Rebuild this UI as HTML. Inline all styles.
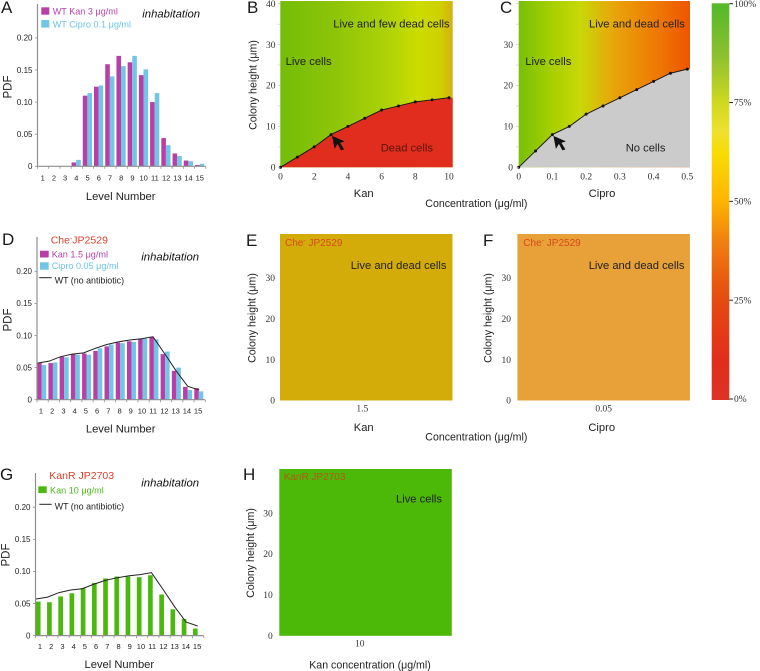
<!DOCTYPE html>
<html lang="en">
<head>
<meta charset="utf-8">
<title>Colony inhabitation and survival charts</title>
<style>
html,body{margin:0;padding:0;background:#fff;}
svg{display:block;filter:blur(0.35px);}
text{font-family:"Liberation Sans",sans-serif;fill:#222;}
.serif{font-family:"Liberation Serif",serif;font-size:9.5px;fill:#333;}
.panel{font-size:17px;fill:#1a1a1a;}
.lab{font-size:11.2px;}
.hab{font-size:11.3px;font-style:italic;fill:#111;}
.leg{font-size:9.1px;}
.wt{font-size:8.9px;fill:#222;}
</style>
</head>
<body>
<svg id="figure" width="760" height="671" viewBox="0 0 760 671" xmlns="http://www.w3.org/2000/svg">
<defs id="defs"></defs>
<g id="marks"></g>

<text class="panel" x="1" y="13">A</text>
<text class="panel" x="247" y="13">B</text>
<text class="panel" x="500" y="13">C</text>
<text class="panel" x="2" y="245">D</text>
<text class="panel" x="246" y="246">E</text>
<text class="panel" x="483" y="246">F</text>
<text class="panel" x="0" y="480">G</text>
<text class="panel" x="243" y="480">H</text>

<!-- Panel A labels -->
<rect x="41.3" y="7.3" width="8" height="7.4" fill="#b83fa8"/>
<text class="leg" x="52.7" y="14.7" fill="#b83fa8" style="fill:#b83fa8">WT Kan 3 μg/ml</text>
<rect x="41.3" y="20" width="8" height="7.6" fill="#72c5e5"/>
<text class="leg" x="52.7" y="27.7" style="fill:#6cc4e4">WT Cipro 0.1 μg/ml</text>
<text class="hab" x="142.3" y="17.3">inhabitation</text>
<text class="lab" x="120.7" y="200" text-anchor="middle">Level Number</text>
<text class="lab" transform="translate(11.5,87) rotate(-90)" text-anchor="middle" style="font-size:11.5px">PDF</text>

<!-- Panel B labels -->
<text class="lab" x="333.3" y="27.5">Live and few dead cells</text>
<text class="lab" x="285.6" y="65">Live cells</text>
<text class="lab" x="380.7" y="151.7" style="fill:#5a1510">Dead cells</text>
<text class="lab" x="363.7" y="197" text-anchor="middle">Kan</text>
<text class="lab" transform="translate(256.5,85) rotate(-90)" text-anchor="middle" style="font-size:10.6px">Colony height (μm)</text>
<text class="lab" x="425.3" y="207" style="font-size:10.6px">Concentration (μg/ml)</text>

<!-- Panel C labels -->
<text class="lab" x="589" y="27.5">Live and dead cells</text>
<text class="lab" x="525.3" y="65">Live cells</text>
<text class="lab" x="625.7" y="151.7">No cells</text>
<text class="lab" x="602" y="197" text-anchor="middle">Cipro</text>

<!-- Panel D labels -->
<text x="50.7" y="243.3" style="font-size:10.5px;fill:#d9402a">Che<tspan dy="-3" style="font-size:7px;fill:#d9402a">-</tspan><tspan dy="3" style="fill:#d9402a">JP2529</tspan></text>
<rect x="40" y="250.7" width="8.7" height="6.8" fill="#b83fa8"/>
<text class="leg" x="51.7" y="257.7" style="fill:#b83fa8">Kan 1.5 μg/ml</text>
<rect x="40" y="262.3" width="8.7" height="7.4" fill="#72c5e5"/>
<text class="leg" x="51.7" y="269" style="fill:#6cc4e4">Cipro 0.05 μg/ml</text>
<line x1="39.3" x2="51.7" y1="277.7" y2="277.7" stroke="#222" stroke-width="1"/>
<text class="wt" x="54.7" y="283.3">WT (no antibiotic)</text>
<text class="hab" x="141.3" y="260.7">inhabitation</text>
<text class="lab" x="120.7" y="432.3" text-anchor="middle">Level Number</text>
<text class="lab" transform="translate(11.5,320) rotate(-90)" text-anchor="middle" style="font-size:11.5px">PDF</text>

<!-- Panel E labels -->
<text x="285" y="246" style="font-size:10px;fill:#d8481c">Che<tspan dy="-3" style="font-size:7px;fill:#d8481c">-</tspan><tspan dy="3" style="fill:#d8481c"> JP2529</tspan></text>
<text class="lab" x="350.7" y="269">Live and dead cells</text>
<text class="lab" x="363.7" y="431" text-anchor="middle">Kan</text>
<text class="lab" transform="translate(255.5,318) rotate(-90)" text-anchor="middle" style="font-size:10.6px">Colony height (μm)</text>
<text class="lab" x="425.3" y="440.3" style="font-size:10.6px">Concentration (μg/ml)</text>

<!-- Panel F labels -->
<text x="523.3" y="246" style="font-size:10px;fill:#d8481c">Che<tspan dy="-3" style="font-size:7px;fill:#d8481c">-</tspan><tspan dy="3" style="fill:#d8481c"> JP2529</tspan></text>
<text class="lab" x="588.7" y="269">Live and dead cells</text>
<text class="lab" x="601.7" y="431" text-anchor="middle">Cipro</text>
<text class="lab" transform="translate(491.5,318) rotate(-90)" text-anchor="middle" style="font-size:10.6px">Colony height (μm)</text>

<!-- Panel G labels -->
<text x="49.3" y="479" style="font-size:10.5px;fill:#d9402a">KanR JP2703</text>
<rect x="38.3" y="486.3" width="8.4" height="6.8" fill="#4cb80e"/>
<text class="leg" x="50" y="493.3" style="fill:#4cb81a">Kan 10 μg/ml</text>
<line x1="39.3" x2="51.7" y1="504.3" y2="504.3" stroke="#222" stroke-width="1"/>
<text class="wt" x="54.7" y="509.3">WT (no antibiotic)</text>
<text class="hab" x="141.3" y="486.3">inhabitation</text>
<text class="lab" x="119.3" y="668" text-anchor="middle">Level Number</text>
<text class="lab" transform="translate(9.5,555) rotate(-90)" text-anchor="middle" style="font-size:11.5px">PDF</text>

<!-- Panel H labels -->
<text x="283.7" y="480" style="font-size:10px;fill:#b8561a">KanR JP2703</text>
<text class="lab" x="396" y="502.7">Live cells</text>
<text class="lab" x="370" y="668.3" text-anchor="middle" style="font-size:10.6px">Kan concentration (μg/ml)</text>
<text class="lab" transform="translate(254,553) rotate(-90)" text-anchor="middle" style="font-size:10.6px">Colony height (μm)</text>
</svg>

<script>
/* ---------- chart data ---------- */
const levels = [1,2,3,4,5,6,7,8,9,10,11,12,13,14,15];
const pdfTicks = [0,0.05,0.10,0.15,0.20];
const pdfTickLabels = ['0','0.05','0.10','0.15','0.20'];

const wtKan3 = [0,0,0,0.006,0.11,0.124,0.159,0.172,0.162,0.142,0.10,0.044,0.02,0.009,0.002];
const wtCipro01 = [0,0,0,0.01,0.114,0.126,0.14,0.156,0.172,0.151,0.114,0.033,0.016,0.008,0.004];

const cheKan15 = [0.057,0.057,0.067,0.071,0.072,0.076,0.083,0.089,0.091,0.095,0.098,0.071,0.045,0.02,0.018];
const cheCipro005 = [0.054,0.058,0.066,0.07,0.07,0.08,0.086,0.088,0.09,0.095,0.094,0.075,0.05,0.015,0.013];
const wtNoAntibiotic = [0.057,0.06,0.067,0.071,0.073,0.08,0.086,0.09,0.093,0.095,0.098,0.072,0.045,0.021,0.015];

const kanRKan10 = [0.053,0.052,0.061,0.066,0.074,0.082,0.089,0.092,0.092,0.091,0.094,0.064,0.041,0.026,0.011];

const kanConcentrations = [0,1,2,3,4,5,6,7,8,9,10];
const kanBoundaryHeights = [0,2.5,5,8,10,12,14,15,16,16.5,17];
const kanTicks = [0,2,4,6,8,10];

const ciproConcentrations = [0,0.05,0.1,0.15,0.2,0.25,0.3,0.35,0.4,0.45,0.5];
const ciproBoundaryHeights = [0,4,8,10,13,15,17,19,21,23,24];
const ciproTicks = [0,0.1,0.2,0.3,0.4,0.5];

const heightTicks = [0,10,20,30,40];
const heightTicksNoTop = [0,10,20,30];
const heightMinorTicks = [0,5,10,15,20,25,30,35,40];
const colorbarTicks = [100,75,50,25,0];

/* colour ramps: [offset, colour] */
const colorbarRamp = [[0,'#52b82a'],[0.13,'#8cc030'],[0.25,'#cfd820'],[0.32,'#eee030'],[0.38,'#f8dc00'],[0.5,'#ffb400'],[0.6,'#f08010'],[0.7,'#e85a10'],[0.75,'#e54a12'],[0.9,'#e12e1a'],[1,'#dc3226']];
const kanRamp = [[0,'#74bd08'],[0.3,'#8cc408'],[0.6,'#abd108'],[0.8,'#cbdc00'],[0.93,'#cfd000'],[1,'#d4b010']];
const ciproRamp = [[0,'#78c008'],[0.2,'#a8d000'],[0.36,'#c8d808'],[0.55,'#e8a60a'],[0.8,'#ee7a04'],[1,'#ee5500']];

/* ---------- helpers ---------- */
const NS = 'http://www.w3.org/2000/svg';
const marks = document.getElementById('marks');
const defs = document.getElementById('defs');

function make(tag, attrs, parent) {
  const el = document.createElementNS(NS, tag);
  for (const k in attrs) el.setAttribute(k, attrs[k]);
  (parent || marks).appendChild(el);
  return el;
}

function addGradient(id, ramp, vertical) {
  const g = make('linearGradient', {id: id, x1: 0, y1: 0, x2: vertical ? 0 : 1, y2: vertical ? 1 : 0}, defs);
  ramp.forEach(function (s) {
    make('stop', {offset: s[0], 'stop-color': s[1]}, g);
  });
}

/* ---------- bar charts ---------- */
function drawBarChart(c) {
  const yPdf = function (v) { return c.base - v * 642; };
  const barX = function (lvl) { return c.barX0 + (lvl - 1) * 11.22; };
  const tickX = function (lvl) { return c.axisX + (lvl - 1) * 11.22; };
  const labelX = function (lvl) { return c.labelX0 + (lvl - 1) * 11.22; };
  const lineX = function (lvl) { return c.lineX0 + (lvl - 1) * 11.55; };

  c.series.forEach(function (s, si) {
    levels.forEach(function (lvl, i) {
      const h = s.values[i] * 642;
      if (h <= 0) return;
      const bar = make('rect', {x: barX(lvl) + s.offset, y: yPdf(s.values[i]), width: s.width, height: h, fill: s.color});
      
      
    });
  });

  if (c.line) {
    const pts = levels.map(function (lvl, i) { return lineX(lvl) + ',' + yPdf(c.line[i]); }).join(' ');
    const line = make('polyline', {points: pts, fill: 'none', stroke: '#222', 'stroke-width': 1});
    
    
  }

  const yAxis = make('line', {x1: c.axisX, x2: c.axisX, y1: c.top, y2: c.base, stroke: '#8f8f8f', 'stroke-width': 1.2});
  
  
  const xAxis = make('line', {x1: c.axisX, x2: c.axisX + 168, y1: c.base, y2: c.base, stroke: '#8f8f8f', 'stroke-width': 1.2});
  
  

  pdfTicks.forEach(function (t, i) {
    const tick = make('line', {x1: c.axisX - 2.5, x2: c.axisX, y1: yPdf(t), y2: yPdf(t), stroke: '#8f8f8f', 'stroke-width': 0.8});
    
    
    const lab = make('text', {x: c.axisX - 5, y: yPdf(t) + 2.8, 'text-anchor': 'end', style: 'font-size:8px'});
    lab.textContent = pdfTickLabels[i];
    
    
  });

  levels.concat([16]).forEach(function (lvl) {
    const tick = make('line', {x1: tickX(lvl), x2: tickX(lvl), y1: c.base, y2: c.base + 2.5, stroke: '#8f8f8f', 'stroke-width': 0.8});
    
    
  });
  levels.forEach(function (lvl) {
    const lab = make('text', {x: labelX(lvl), y: c.labelY, 'text-anchor': 'middle', style: 'font-size:7.5px'});
    lab.textContent = lvl;
    
    
  });
}

drawBarChart({id: 'a', axisX: 37.5, top: 4, base: 166.3, barX0: 42.5, labelX0: 42.7, lineX0: 37.5, labelY: 180.7,
  series: [{name: 'kan', values: wtKan3, color: '#b83fa8', offset: -4.6, width: 4.6},
           {name: 'cipro', values: wtCipro01, color: '#72c5e5', offset: 0, width: 4.6}]});
drawBarChart({id: 'd', axisX: 37, top: 237, base: 399.7, barX0: 41.7, labelX0: 41, lineX0: 37.5, labelY: 413.3, line: wtNoAntibiotic,
  series: [{name: 'kan', values: cheKan15, color: '#b83fa8', offset: -4.5, width: 4.5},
           {name: 'cipro', values: cheCipro005, color: '#72c5e5', offset: 0, width: 4.5}]});
drawBarChart({id: 'g', axisX: 35.5, top: 473, base: 635.6, barX0: 38.2, labelX0: 40, lineX0: 36, labelY: 649, line: wtNoAntibiotic,
  series: [{name: 'kan', values: kanRKan10, color: '#4cb80e', offset: -2.35, width: 4.7}]});

/* ---------- phase-diagram panels ---------- */
function heightAxis(id, ticks, y0, labelRight, axisX) {
  const yH = function (h) { return y0 - h * 4.09; };
  ticks.forEach(function (t) {
    const lab = make('text', {x: labelRight, y: yH(t) + 3.2, 'text-anchor': 'end', 'class': 'serif'});
    lab.textContent = t;
    
    
  });
}

function drawPhase(c) {
  const xC = function (v) { return c.x0 + (v / c.max) * c.xSpan; };
  const yH = function (h) { return c.y0 - h * 4.09; };
  addGradient(c.id + '-ramp', c.ramp, false);
  const bg = make('rect', {x: c.left, y: 1, width: c.right - c.left, height: c.y0 - 1, fill: 'url(#' + c.id + '-ramp)'});
  
  

  const coords = c.xs.map(function (v, i) { return xC(v) + ',' + yH(c.hs[i]); });
  const last = c.hs[c.hs.length - 1];
  const region = make('polygon', {points: coords.join(' ') + ' ' + c.right + ',' + yH(last) + ' ' + c.right + ',' + c.y0 + ' ' + c.left + ',' + c.y0, fill: c.fill});
  
  

  const line = make('polyline', {points: coords.join(' '), fill: 'none', stroke: '#1a1a1a', 'stroke-width': 1});
  
  

  c.xs.forEach(function (v, i) {
    const dot = make('circle', {cx: xC(v), cy: yH(c.hs[i]), r: 1.5, fill: '#111'});
    
    
  });

  heightMinorTicks.forEach(function (t) {
    const tick = make('line', {x1: c.left - 2.5, x2: c.left, y1: yH(t), y2: yH(t), stroke: '#c4c4c4', 'stroke-width': 0.7});
    
    
  });

  c.xTicks.forEach(function (t) {
    const lab = make('text', {x: xC(t), y: 179.3, 'text-anchor': 'middle', 'class': 'serif'});
    lab.textContent = t;
    
    
  });
  heightAxis(c.id, c.yTicks, c.y0, c.labelRight, c.left);

  const ax = xC(c.arrowAt), ay = yH(c.arrowHeight) + 0.5;
  const arrow = make('polygon', {points: '0,0 12.5,5.5 8,7 12,13.5 9,14.5 5.5,8 2.5,13', fill: '#111', transform: 'translate(' + (ax + 1) + ',' + (ay + 0.8) + ')'});
  
  
}

drawPhase({id: 'b', left: 280.3, right: 452.7, x0: 280.5, xSpan: 168.5, max: 10, y0: 167.3, xs: kanConcentrations, hs: kanBoundaryHeights,
  ramp: kanRamp, fill: '#e02d1e', xTicks: kanTicks, yTicks: heightTicks, labelRight: 275.5, arrowAt: 3, arrowHeight: 8});
drawPhase({id: 'c', left: 518.7, right: 690, x0: 518.7, xSpan: 168.6, max: 0.5, y0: 167.3, xs: ciproConcentrations, hs: ciproBoundaryHeights,
  ramp: ciproRamp, fill: '#cbcbcb', xTicks: ciproTicks, yTicks: heightTicksNoTop, labelRight: 513, arrowAt: 0.1, arrowHeight: 8});

function drawSolid(c) {
  const r = make('rect', {x: c.left, y: c.top, width: 172.5, height: c.y0 - c.top, fill: c.fill});
  
  
  heightAxis(c.id, heightTicksNoTop, c.y0, c.labelRight, c.left);
  const lab = make('text', {x: c.tickX, y: c.y0 + 10.8, 'text-anchor': 'middle', 'class': 'serif'});
  lab.textContent = c.tick;
  
  
}
drawSolid({id: 'e', left: 280, top: 234, y0: 400.5, fill: '#d4ac0a', labelRight: 275, tickX: 362.3, tick: '1.5'});
drawSolid({id: 'f', left: 517.4, top: 234, y0: 400.5, fill: '#e8a038', labelRight: 511, tickX: 603.7, tick: '0.05'});
drawSolid({id: 'h', left: 279.3, top: 469, y0: 635.8, fill: '#4cb808', labelRight: 272.7, tickX: 359.7, tick: '10'});

/* ---------- colour bar ---------- */
addGradient('bar-ramp', colorbarRamp, true);
const colorbar = make('rect', {x: 711.7, y: 3.3, width: 17.6, height: 396.7, fill: 'url(#bar-ramp)'});


colorbarTicks.forEach(function (p) {
  const y = 3.7 + (100 - p) * 3.953;
  const tick = make('line', {x1: 729.3, x2: 733, y1: y, y2: y, stroke: '#222', 'stroke-width': 1});
  
  
  const lab = make('text', {x: 734, y: y + 3.2, 'class': 'serif'});
  lab.textContent = p + '%';
  
  
});
</script>
</body>
</html>
